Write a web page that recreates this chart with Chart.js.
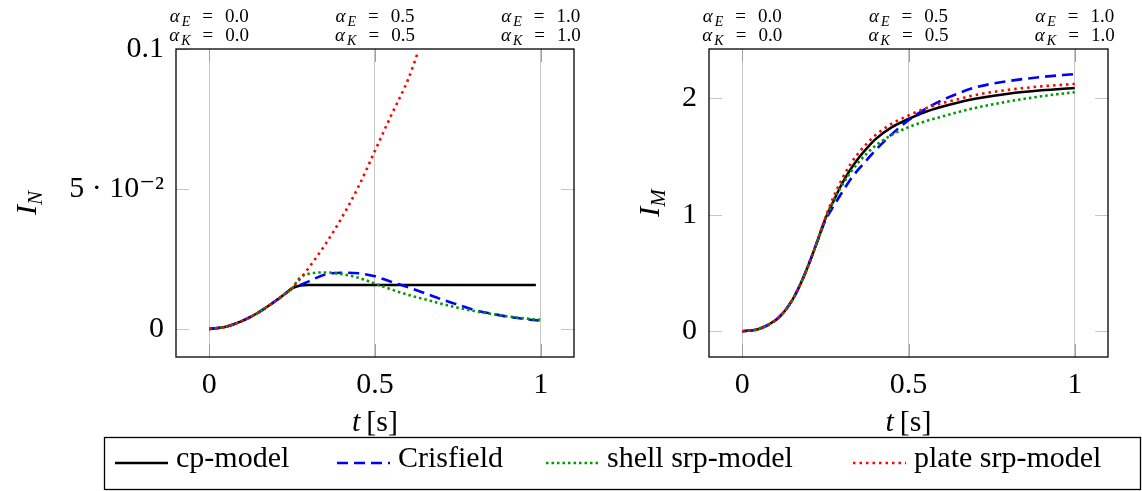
<!DOCTYPE html>
<html>
<head>
<meta charset="utf-8">
<script src="https://cdn.jsdelivr.net/npm/chart.js@4/dist/chart.umd.min.js"></script>
<style>
  body { margin: 0; background: #fff; }
  #wrap { position: relative; width: 1142px; height: 491px; }
  #wrap canvas { position: absolute; left: 0; top: 0; }
</style>
</head>
<body>
<div id="wrap">
  <canvas id="chartN" width="1142" height="491"></canvas>
  <canvas id="chartM" width="1142" height="491"></canvas>
</div>
<script>
// series names (legend order)
const seriesNames = ['cp-model', 'Crisfield', 'shell srp-model', 'plate srp-model'];

// left plot: I_N over t
const tN = [0, 0.05, 0.1, 0.15, 0.2, 0.225, 0.25, 0.275, 0.3, 0.35, 0.4, 0.45, 0.5, 0.55, 0.6, 0.65, 0.7, 0.75, 0.8, 0.85, 0.9, 0.95, 0.985, 1.0];
const cpN =        [0, 0.0008, 0.0029, 0.0060, 0.0100, 0.0122, 0.0145, 0.0155, 0.0157, 0.0157, 0.0157, 0.0157, 0.0157, 0.0157, 0.0157, 0.0157, 0.0157, 0.0157, 0.0157, 0.0157, 0.0157, 0.0157, 0.0157, null];
const crisfieldN = [0, 0.0008, 0.0029, 0.0060, 0.0100, 0.0122, 0.0145, 0.0157, 0.0170, 0.0195, 0.0201, 0.0199, 0.0188, 0.0168, 0.0149, 0.0128, 0.0106, 0.0087, 0.0068, 0.0055, 0.0044, 0.0036, 0.0031, 0.0030];
const shellN =     [0, 0.0008, 0.0029, 0.0060, 0.0100, 0.0122, 0.0146, 0.0185, 0.0197, 0.0202, 0.0196, 0.0183, 0.0162, 0.0141, 0.0122, 0.0106, 0.0090, 0.0076, 0.0064, 0.0054, 0.0045, 0.0038, 0.0034, 0.0033];
const tPlateN = [0, 0.05, 0.1, 0.15, 0.2, 0.225, 0.25, 0.275, 0.3, 0.35, 0.4, 0.45, 0.5, 0.55, 0.6, 0.63];
const plateN =  [0, 0.0008, 0.0029, 0.0060, 0.0100, 0.0122, 0.0146, 0.0180, 0.0218, 0.0302, 0.0398, 0.0508, 0.0637, 0.0766, 0.0892, 0.0990];

// right plot: I_M over t
const tM = [0, 0.05, 0.1, 0.125, 0.15, 0.175, 0.2, 0.225, 0.25, 0.275, 0.3, 0.325, 0.35, 0.375, 0.4, 0.45, 0.5, 0.55, 0.6, 0.65, 0.7, 0.8, 0.9, 1.0];
const cpM =        [0, 0.02, 0.095, 0.165, 0.265, 0.405, 0.575, 0.765, 0.965, 1.12, 1.265, 1.385, 1.485, 1.57, 1.645, 1.75, 1.82, 1.88, 1.925, 1.962, 1.993, 2.037, 2.066, 2.086];
const crisfieldM = [0, 0.02, 0.095, 0.165, 0.265, 0.405, 0.575, 0.765, 0.95, 1.075, 1.19, 1.30, 1.39, 1.47, 1.55, 1.69, 1.81, 1.905, 1.98, 2.04, 2.09, 2.145, 2.18, 2.205];
const shellM =     [0, 0.02, 0.095, 0.165, 0.265, 0.405, 0.575, 0.765, 0.965, 1.125, 1.25, 1.36, 1.45, 1.525, 1.59, 1.685, 1.75, 1.80, 1.84, 1.88, 1.915, 1.97, 2.015, 2.05];
const plateM =     [0, 0.02, 0.095, 0.165, 0.265, 0.405, 0.575, 0.77, 0.975, 1.155, 1.305, 1.43, 1.53, 1.61, 1.68, 1.78, 1.85, 1.91, 1.955, 1.99, 2.025, 2.07, 2.10, 2.12];

// ticks
const xTickVals = [0, 0.5, 1];
const xTickLabels = ['0', '0.5', '1'];
const yTickValsN = [0, 0.05, 0.1];
const yTickLabelsN = ['0', '5 · 10⁻²', '0.1'];
const yTickValsM = [0, 1, 2];
const yTickLabelsM = ['0', '1', '2'];
const alphaE = ['0.0', '0.5', '1.0'];
const alphaK = ['0.0', '0.5', '1.0'];

const SERIF = '"Liberation Serif", "DejaVu Serif", serif';
const styles = [
  { color: '#000000', width: 2.5, dash: [] },
  { color: '#0000ff', width: 2.6, dash: [11, 6] },
  { color: '#009a00', width: 2.6, dash: [2.5, 3] },
  { color: '#ff0000', width: 2.6, dash: [2.5, 4] }
];

function pts(ts, vs) {
  return ts.map((t, i) => ({ x: t, y: vs[i] }));
}

function makeSets(list) {
  return list.map((d, i) => ({
    label: seriesNames[i],
    data: d,
    borderColor: styles[i].color,
    borderWidth: styles[i].width,
    borderDash: styles[i].dash,
    borderCapStyle: 'butt',
    pointRadius: 0,
    fill: false,
    cubicInterpolationMode: 'monotone',
    order: 3 - i
  }));
}

// draws a row of text pieces centred on x
function drawParts(ctx, parts, x, y) {
  let w = 0;
  parts.forEach(p => {
    ctx.font = p.font;
    p.w = ctx.measureText(p.text).width;
    w += (p.gap || 0) + p.w;
  });
  let cx = x - w / 2;
  parts.forEach(p => {
    cx += p.gap || 0;
    ctx.font = p.font;
    ctx.fillText(p.text, cx, y + (p.dy || 0));
    cx += p.w;
  });
}

const framePlugin = {
  id: 'frame',
  beforeDatasetsDraw(chart) {
    const { ctx, chartArea: a, scales: { x, y } } = chart;
    ctx.save();
    ctx.lineWidth = 1;
    ctx.strokeStyle = '#c6c6c6';
    y.ticks.forEach(t => {
      const py = Math.round(y.getPixelForValue(t.value)) + 0.5;
      ctx.beginPath();
      ctx.moveTo(a.left, py); ctx.lineTo(a.left + 13, py);
      ctx.moveTo(a.right - 13, py); ctx.lineTo(a.right, py);
      ctx.stroke();
    });
    ctx.strokeStyle = '#a0a0a0';
    x.ticks.forEach(t => {
      const px = Math.round(x.getPixelForValue(t.value)) + 0.5;
      ctx.beginPath();
      ctx.moveTo(px, a.bottom); ctx.lineTo(px, a.bottom - 13);
      ctx.moveTo(px, a.top); ctx.lineTo(px, a.top + 13);
      ctx.stroke();
    });
    ctx.restore();
  },
  afterDatasetsDraw(chart) {
    const { ctx, chartArea: a } = chart;
    ctx.save();
    ctx.lineWidth = 1.3;
    ctx.strokeStyle = '#000';
    ctx.strokeRect(a.left, a.top, a.right - a.left, a.bottom - a.top);
    ctx.restore();
  },
  afterDraw(chart, args, opts) {
    const { ctx, chartArea: a, scales: { x } } = chart;
    ctx.save();
    ctx.fillStyle = '#000';
    ctx.textAlign = 'left';
    ctx.textBaseline = 'alphabetic';

    // alpha labels above the plot
    x.ticks.forEach((t, i) => {
      const px = x.getPixelForValue(t.value);
      drawParts(ctx, [
        { text: 'α', font: `italic 19px ${SERIF}` },
        { text: 'E', font: `italic 14px ${SERIF}`, dy: 4, gap: 2 },
        { text: '=', font: `19px ${SERIF}`, gap: 12 },
        { text: alphaE[i], font: `19px ${SERIF}`, gap: 12 }
      ], px, 22);
      drawParts(ctx, [
        { text: 'α', font: `italic 19px ${SERIF}` },
        { text: 'K', font: `italic 14px ${SERIF}`, dy: 4, gap: 2 },
        { text: '=', font: `19px ${SERIF}`, gap: 12 },
        { text: alphaK[i], font: `19px ${SERIF}`, gap: 12 }
      ], px, 41);
    });

    // x axis title
    drawParts(ctx, [
      { text: 't', font: `italic 30px ${SERIF}` },
      { text: '[s]', font: `30px ${SERIF}`, gap: 6 }
    ], (a.left + a.right) / 2, 431);

    // y axis title (rotated)
    ctx.save();
    ctx.translate(opts.yTitleX, (a.top + a.bottom) / 2);
    ctx.rotate(-Math.PI / 2);
    drawParts(ctx, [
      { text: 'I', font: `italic 30px ${SERIF}` },
      { text: opts.ySub, font: `italic 21px ${SERIF}`, dy: 6, gap: 0 }
    ], 0, 0);
    ctx.restore();

    // shared legend
    if (opts.legend) {
      ctx.lineWidth = 1.3;
      ctx.strokeStyle = '#000';
      ctx.strokeRect(104.5, 437.5, 1036, 52);
      const startX = [115, 337, 546, 853];
      chart.data.datasets.forEach((ds, i) => {
        const x0 = startX[i];
        ctx.save();
        ctx.strokeStyle = ds.borderColor;
        ctx.lineWidth = ds.borderWidth;
        ctx.setLineDash(ds.borderDash);
        ctx.beginPath();
        ctx.moveTo(x0, 463);
        ctx.lineTo(x0 + 53, 463);
        ctx.stroke();
        ctx.restore();
        ctx.font = `30px ${SERIF}`;
        ctx.fillText(ds.label, x0 + 61, 467);
      });
    }
    ctx.restore();
  }
};

function makeChart(id, padding, yWidth, datasets, yMin, yMax, yVals, yLabels, ySub, yTitleX, legend) {
  return new Chart(document.getElementById(id), {
    type: 'line',
    data: { datasets: datasets },
    plugins: [framePlugin],
    options: {
      responsive: false,
      animation: false,
      layout: { padding: padding },
      plugins: {
        legend: { display: false },
        tooltip: { enabled: false },
        frame: { ySub: ySub, yTitleX: yTitleX, legend: legend }
      },
      scales: {
        x: {
          type: 'linear',
          min: -0.1,
          max: 1.1,
          afterBuildTicks: s => { s.ticks = xTickVals.map(v => ({ value: v })); },
          afterFit: s => { s.height = 134; },
          border: { display: false },
          grid: { color: '#c6c6c6', lineWidth: 1, drawTicks: false },
          ticks: {
            autoSkip: false,
            maxRotation: 0,
            padding: 10,
            color: '#000',
            font: { family: SERIF, size: 30 },
            callback: v => xTickLabels[xTickVals.indexOf(v)]
          }
        },
        y: {
          type: 'linear',
          min: yMin,
          max: yMax,
          afterBuildTicks: s => { s.ticks = yVals.map(v => ({ value: v })); },
          afterFit: s => { s.width = yWidth; },
          border: { display: false },
          grid: { display: false, drawTicks: false },
          ticks: {
            autoSkip: false,
            padding: 12,
            color: '#000',
            font: { family: SERIF, size: 30 },
            callback: v => yLabels[yVals.indexOf(v)]
          }
        }
      }
    }
  });
}

makeChart('chartN', { left: 0, right: 568, top: 49, bottom: 0 }, 176,
  makeSets([pts(tN, cpN), pts(tN, crisfieldN), pts(tN, shellN), pts(tPlateN, plateN)]),
  -0.01, 0.1, yTickValsN, yTickLabelsN, 'N', 36, true);

makeChart('chartM', { left: 0, right: 34, top: 49, bottom: 0 }, 709,
  makeSets([pts(tM, cpM), pts(tM, crisfieldM), pts(tM, shellM), pts(tM, plateM)]),
  -0.22, 2.42, yTickValsM, yTickLabelsM, 'M', 659, false);
</script>
</body>
</html>
